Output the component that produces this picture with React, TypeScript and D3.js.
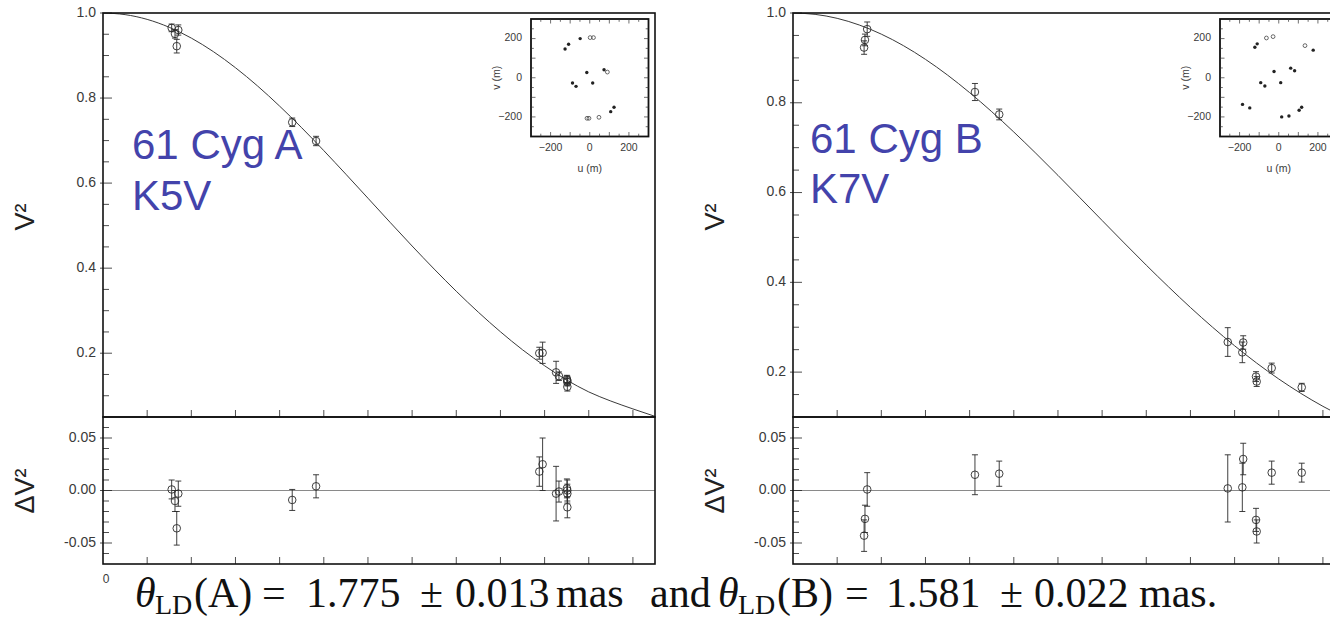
import React from 'react';
import * as d3 from 'd3';

// Projected baseline grid (m) for the limb-darkened disk model curves
const modelBaselines = [0, 10, 20, 30, 40, 50, 60, 70, 80, 90, 100, 110, 120, 130, 140, 150, 160, 170, 180, 190, 200, 210, 220, 230, 240, 250];
const modelA = [1, 0.9962, 0.985, 0.9664, 0.941, 0.9091, 0.8713, 0.8284, 0.781, 0.7301, 0.6764, 0.6209, 0.5645, 0.5079, 0.4521, 0.3978, 0.3457, 0.2964, 0.2504, 0.2081, 0.1705, 0.137, 0.109, 0.0875, 0.069, 0.0515];
const modelB = [1, 0.997, 0.9881, 0.9733, 0.9529, 0.9273, 0.8967, 0.8617, 0.8226, 0.7802, 0.7349, 0.6874, 0.6383, 0.5882, 0.5378, 0.4877, 0.4383, 0.3903, 0.344, 0.3001, 0.2587, 0.2201, 0.1847, 0.1526, 0.1238, 0.0984];

// 61 Cyg A measurements
const baseA = [31.1, 32.6, 34.1, 33.4, 85.7, 96.5, 197.6, 199.1, 205.2, 206.5, 210.1, 210.3, 210.3, 210.3];
const v2A = [0.965, 0.951, 0.96, 0.922, 0.743, 0.699, 0.2, 0.201, 0.155, 0.146, 0.139, 0.136, 0.132, 0.121];
const errA = [0.009, 0.01, 0.012, 0.016, 0.01, 0.011, 0.014, 0.025, 0.026, 0.01, 0.009, 0.01, 0.009, 0.01];
const resA = [0.001, -0.01, -0.003, -0.036, -0.009, 0.004, 0.018, 0.025, -0.003, -0.001, 0.002, 0.0, -0.003, -0.016];

// 61 Cyg B measurements
const baseB = [32.2, 32.6, 33.6, 82.4, 93.4, 196.9, 203.9, 203.5, 209.7, 210.0, 216.8, 230.4];
const v2B = [0.923, 0.94, 0.964, 0.824, 0.774, 0.267, 0.266, 0.244, 0.19, 0.179, 0.209, 0.166];
const errB = [0.015, 0.013, 0.016, 0.019, 0.012, 0.032, 0.015, 0.023, 0.011, 0.011, 0.011, 0.009];
const resB = [-0.043, -0.027, 0.001, 0.015, 0.016, 0.002, 0.03, 0.003, -0.028, -0.039, 0.017, 0.017];

// (u, v) coverage in metres; flag 1 = open symbol
const uA = [-126, -108, -49, 2, 19, -15, 73, 90, -88, -70, 15, -14, -4, 47, 107, 124];
const vA = [147, 171, 200, 205, 205, 27, 41, 29, -27, -44, -27, -207, -207, -202, -173, -151];
const openA = [0, 0, 0, 1, 1, 0, 0, 1, 0, 0, 0, 1, 1, 1, 0, 0];
const uB = [-122, -110, -63, -29, 134, 176, -24, 61, 81, -92, -71, 10, -185, -148, 104, 117, 15, 52];
const vB = [156, 173, 203, 210, 164, 141, 32, 49, 36, -25, -42, -25, -136, -154, -166, -151, -200, -195];
const openB = [0, 0, 1, 1, 1, 0, 0, 0, 0, 0, 0, 0, 0, 0, 0, 0, 0, 0];

const insetTicks = [-200, 0, 200];
const baselineTicks = [20, 40, 60, 80, 100, 120, 140, 160, 180, 200, 220, 240];

const W = 1330;
const H = 620;
const PANEL_W = 552;
const TOP = 13;
const MID = 417;
const BOTTOM = 564;
const INK = '#2a2a2a';
const LABEL = '#3a3a3a';
const BLUE = '#4343ab';
const SANS = '"Liberation Sans", Arial, Helvetica, sans-serif';
const SERIF = '"Liberation Serif", "Times New Roman", serif';

const fmtRes = (v: number) => d3.format('.2f')(v).replace('\u2212', '-');
const fmtMain = d3.format('.1f');

type InsetProps = { x0: number; y0: number; u: number[]; v: number[]; open: number[] };

function UVInset({ x0, y0, u, v, open }: InsetProps) {
  const size = 117.5;
  const sx = d3.scaleLinear().domain([-300, 300]).range([x0, x0 + size]);
  const sy = d3.scaleLinear().domain([-300, 300]).range([y0 + size, y0]);
  const minor = d3.range(-250, 300, 50);
  return (
    <g>
      <rect x={x0} y={y0} width={size} height={size} fill="#fff" stroke="#111" strokeWidth={1.8} />
      {minor.map((t) => {
        const len = t % 100 === 0 ? 4.5 : 2.8;
        return (
          <g key={'t' + t} stroke="#333" strokeWidth={0.7}>
            <line x1={sx(t)} x2={sx(t)} y1={y0 + size} y2={y0 + size - len} />
            <line x1={sx(t)} x2={sx(t)} y1={y0} y2={y0 + len} />
            <line x1={x0} x2={x0 + len} y1={sy(t)} y2={sy(t)} />
            <line x1={x0 + size} x2={x0 + size - len} y1={sy(t)} y2={sy(t)} />
          </g>
        );
      })}
      {insetTicks.map((t) => (
        <text key={'yl' + t} x={x0 - 9} y={sy(t)} fontSize={10.5} fontFamily={SANS} fill={LABEL} textAnchor="end" dominantBaseline="middle">
          {d3.format('d')(t)}
        </text>
      ))}
      {insetTicks.map((t) => (
        <text key={'xl' + t} x={sx(t)} y={y0 + size + 14} fontSize={10.5} fontFamily={SANS} fill={LABEL} textAnchor="middle">
          {d3.format('d')(t)}
        </text>
      ))}
      <text x={sx(0)} y={y0 + size + 35} fontSize={10.5} fontFamily={SANS} fill={LABEL} textAnchor="middle">u (m)</text>
      <text transform={`translate(${x0 - 34},${sy(0)}) rotate(-90)`} fontSize={10.5} fontFamily={SANS} fill={LABEL} textAnchor="middle" dominantBaseline="middle">v (m)</text>
      {u.map((uu, i) =>
        open[i] ? (
          <circle key={'p' + i} cx={sx(uu)} cy={sy(v[i])} r={1.9} fill="none" stroke="#444" strokeWidth={0.8} />
        ) : (
          <circle key={'p' + i} cx={sx(uu)} cy={sy(v[i])} r={1.7} fill="#222" />
        )
      )}
    </g>
  );
}

type PanelProps = {
  id: string;
  left: number;
  yMin: number;
  model: number[];
  base: number[];
  v2: number[];
  err: number[];
  res: number[];
  name: string;
  spType: string;
  nameX: number;
  nameY: number;
  typeY: number;
  showZero: boolean;
  insetX: number;
  u: number[];
  v: number[];
  open: number[];
};

function Panel(p: PanelProps) {
  const x = d3.scaleLinear().domain([0, 250]).range([p.left, p.left + PANEL_W]);
  const y = d3.scaleLinear().domain([p.yMin, 1]).range([MID, TOP]);
  const yr = d3.scaleLinear().domain([-0.07, 0.07]).range([BOTTOM, MID]);
  const line = d3
    .line<number>()
    .x((_, i) => x(modelBaselines[i]))
    .y((d) => y(d))
    .curve(d3.curveMonotoneX);

  const mainTicks: { v: number; major: boolean }[] = [];
  for (let k = 1; k <= 20; k++) {
    const val = k * 0.05;
    if (val > p.yMin + 1e-9) mainTicks.push({ v: val, major: k % 4 === 0 });
  }
  const resTicks: { v: number; major: boolean }[] = [];
  for (let k = -6; k <= 6; k++) resTicks.push({ v: k * 0.01, major: k % 5 === 0 });

  const clipMain = `clip-main-${p.id}`;
  const clipRes = `clip-res-${p.id}`;
  const cap = 3;

  return (
    <g>
      <defs>
        <clipPath id={clipMain}>
          <rect x={p.left} y={TOP} width={PANEL_W} height={MID - TOP} />
        </clipPath>
        <clipPath id={clipRes}>
          <rect x={p.left} y={MID} width={PANEL_W} height={BOTTOM - MID} />
        </clipPath>
      </defs>

      {/* model curve */}
      <path d={line(p.model) || ''} fill="none" stroke="#3a3a3a" strokeWidth={1} clipPath={`url(#${clipMain})`} />

      {/* squared visibilities */}
      <g clipPath={`url(#${clipMain})`} stroke={INK} strokeWidth={0.9} fill="none">
        {p.base.map((b, i) => (
          <g key={'m' + i}>
            <line x1={x(b)} x2={x(b)} y1={y(p.v2[i] - p.err[i])} y2={y(p.v2[i] + p.err[i])} />
            <line x1={x(b) - cap} x2={x(b) + cap} y1={y(p.v2[i] - p.err[i])} y2={y(p.v2[i] - p.err[i])} />
            <line x1={x(b) - cap} x2={x(b) + cap} y1={y(p.v2[i] + p.err[i])} y2={y(p.v2[i] + p.err[i])} />
            <circle cx={x(b)} cy={y(p.v2[i])} r={3.8} />
          </g>
        ))}
      </g>

      {/* residuals */}
      <line x1={p.left} x2={p.left + PANEL_W} y1={yr(0)} y2={yr(0)} stroke="#8a8a8a" strokeWidth={1} />
      <g clipPath={`url(#${clipRes})`} stroke={INK} strokeWidth={0.9} fill="none">
        {p.base.map((b, i) => (
          <g key={'r' + i}>
            <line x1={x(b)} x2={x(b)} y1={yr(p.res[i] - p.err[i])} y2={yr(p.res[i] + p.err[i])} />
            <line x1={x(b) - cap} x2={x(b) + cap} y1={yr(p.res[i] - p.err[i])} y2={yr(p.res[i] - p.err[i])} />
            <line x1={x(b) - cap} x2={x(b) + cap} y1={yr(p.res[i] + p.err[i])} y2={yr(p.res[i] + p.err[i])} />
            <circle cx={x(b)} cy={yr(p.res[i])} r={3.8} />
          </g>
        ))}
      </g>

      {/* ticks along the baseline axis */}
      <g stroke="#222" strokeWidth={0.8}>
        {baselineTicks.map((t) => (
          <g key={'xt' + t}>
            <line x1={x(t)} x2={x(t)} y1={MID} y2={MID - 7} />
            <line x1={x(t)} x2={x(t)} y1={BOTTOM} y2={BOTTOM - 7} />
          </g>
        ))}
      </g>

      {/* V^2 axis ticks */}
      <g stroke="#222" strokeWidth={0.8}>
        {mainTicks.map((t) => (
          <line key={'yt' + t.v} x1={t.major ? p.left - 3 : p.left} x2={p.left + (t.major ? 9 : 6)} y1={y(t.v)} y2={y(t.v)} />
        ))}
        {resTicks.map((t) => (
          <line key={'rt' + t.v} x1={t.major ? p.left - 3 : p.left} x2={p.left + (t.major ? 9 : 6)} y1={yr(t.v)} y2={yr(t.v)} />
        ))}
      </g>
      {mainTicks
        .filter((t) => t.major)
        .map((t) => (
          <text key={'yl' + t.v} x={p.left - 7} y={y(t.v)} fontSize={14} fontFamily={SANS} fill={LABEL} textAnchor="end" dominantBaseline="middle">
            {fmtMain(t.v)}
          </text>
        ))}
      {resTicks
        .filter((t) => t.major)
        .map((t) => (
          <text key={'rl' + t.v} x={p.left - 7} y={yr(t.v)} fontSize={14} fontFamily={SANS} fill={LABEL} textAnchor="end" dominantBaseline="middle">
            {fmtRes(t.v)}
          </text>
        ))}
      {p.showZero && (
        <text x={x(0) + 3} y={583} fontSize={12} fontFamily={SANS} fill={LABEL} textAnchor="middle">
          0
        </text>
      )}

      {/* frames */}
      <rect x={p.left} y={TOP} width={PANEL_W} height={MID - TOP} fill="none" stroke="#111" strokeWidth={1.6} />
      <rect x={p.left} y={MID} width={PANEL_W} height={BOTTOM - MID} fill="none" stroke="#111" strokeWidth={1.6} />

      {/* axis titles */}
      <text transform={`translate(${p.left - 76},217) rotate(-90)`} fontSize={27} fontFamily={SANS} fill="#222" textAnchor="middle" dominantBaseline="middle">
        V²
      </text>
      <text transform={`translate(${p.left - 76},491) rotate(-90)`} fontSize={27} fontFamily={SANS} fill="#222" textAnchor="middle" dominantBaseline="middle">
        ΔV²
      </text>

      {/* star name and spectral type */}
      <text x={p.nameX} y={p.nameY} fontSize={42} fontFamily={SANS} fill={BLUE}>
        {p.name}
      </text>
      <text x={p.nameX} y={p.typeY} fontSize={42} fontFamily={SANS} fill={BLUE}>
        {p.spType}
      </text>

      <UVInset x0={p.insetX} y0={19} u={p.u} v={p.v} open={p.open} />
    </g>
  );
}

function Caption() {
  const base = 607;
  const sub = 614;
  const fs = 42;
  const pieces: { t: string; x: number; italic?: boolean; subscript?: boolean }[] = [
    { t: 'θ', x: 135, italic: true },
    { t: 'LD', x: 155, subscript: true },
    { t: '(A)', x: 194 },
    { t: '=', x: 262 },
    { t: '1.775', x: 306 },
    { t: '±', x: 420 },
    { t: '0.013', x: 455 },
    { t: 'mas', x: 556 },
    { t: 'and', x: 650 },
    { t: 'θ', x: 718, italic: true },
    { t: 'LD', x: 738, subscript: true },
    { t: '(B)', x: 777 },
    { t: '=', x: 845 },
    { t: '1.581', x: 886 },
    { t: '±', x: 1000 },
    { t: '0.022', x: 1034 },
    { t: 'mas.', x: 1139 },
  ];
  return (
    <g fontFamily={SERIF} fill="#111">
      {pieces.map((pc, i) => (
        <text
          key={i}
          x={pc.x}
          y={pc.subscript ? sub : base}
          fontSize={pc.subscript ? 28 : fs}
          fontStyle={pc.italic ? 'italic' : 'normal'}
        >
          {pc.t}
        </text>
      ))}
    </g>
  );
}

export default function App() {
  return (
    <div style={{ position: 'absolute', left: 0, top: 0, width: W, height: H, background: '#fff' }}>
      <svg width={W} height={H} viewBox={`0 0 ${W} ${H}`} style={{ display: 'block' }}>
        <rect x={0} y={0} width={W} height={H} fill="#fff" />
        <Panel
          id="a"
          left={103}
          yMin={0.05}
          model={modelA}
          base={baseA}
          v2={v2A}
          err={errA}
          res={resA}
          name="61 Cyg A"
          spType="K5V"
          nameX={132}
          nameY={159}
          typeY={210}
          showZero={true}
          insetX={531}
          u={uA}
          v={vA}
          open={openA}
        />
        <Panel
          id="b"
          left={793}
          yMin={0.1}
          model={modelB}
          base={baseB}
          v2={v2B}
          err={errB}
          res={resB}
          name="61 Cyg B"
          spType="K7V"
          nameX={810}
          nameY={153}
          typeY={203}
          showZero={false}
          insetX={1220}
          u={uB}
          v={vB}
          open={openB}
        />
        <Caption />
      </svg>
    </div>
  );
}
